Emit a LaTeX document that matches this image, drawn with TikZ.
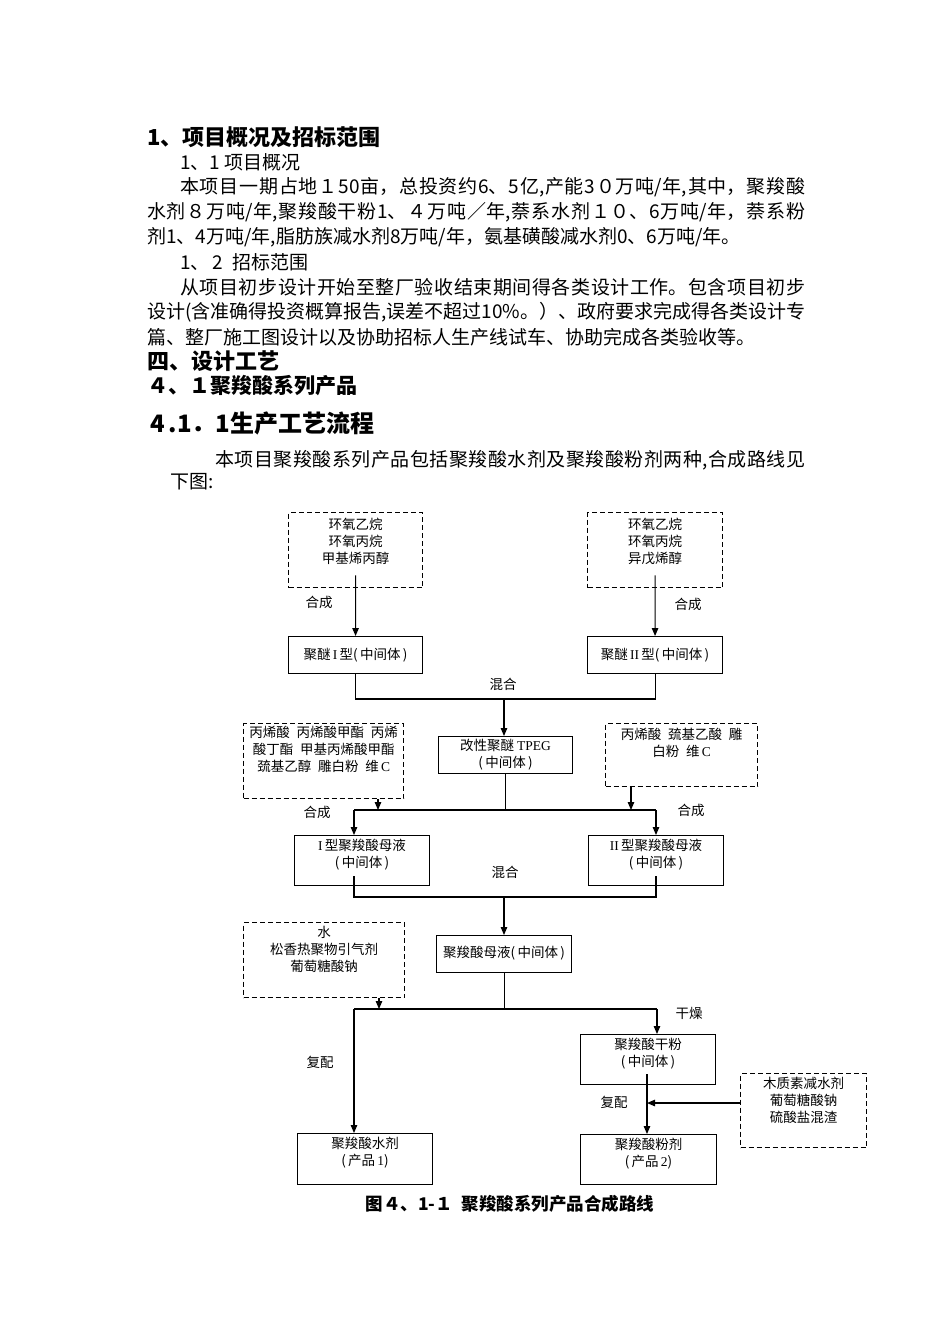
\documentclass[tikz,border=0pt]{standalone}
\usepackage{fontspec}
\usetikzlibrary{arrows.meta}
\setmainfont{Noto Sans CJK SC}
\newfontfamily\enfont{Liberation Serif}
\newcommand\cell[4]{\parbox[c][#2pt][t]{#1pt}{\centering\vspace*{#3pt}#4}}
\newcommand\jline[2]{\parbox{#1pt}{\XeTeXlinebreaklocale "zh"\XeTeXlinebreakskip=0pt plus 3pt minus 1pt\relax
  \parindent=0pt\parfillskip=0pt\leftskip=0pt\rightskip=0pt #2}}

\begin{document}
\begin{tikzpicture}[x=1pt, y=-1pt,
    body/.style={anchor=west, inner sep=0pt, font=\fontsize{19}{25}\selectfont},
    head/.style={anchor=west, inner sep=0pt, font=\fontsize{22}{26}\selectfont\bfseries},
    solidbox/.style={draw, line width=1.1pt, inner sep=0pt, anchor=north west, font=\fontsize{13.5}{17}\selectfont},
    dashbox/.style={solidbox, line width=1.3pt, dash pattern=on 5pt off 3pt},
    lbl/.style={inner sep=0pt, font=\fontsize{13.5}{17}\selectfont},
    wire/.style={line width=1.1pt},
    arr/.style={wire, -{Triangle[length=8pt,width=6.5pt]}}]
  \useasboundingbox (0,0) rectangle (950,1344);

  % page text
  \node[head] (h1) at (147,137) {1、项目概况及招标范围};
  \node[body] (s11) at (180,162) {1、1 项目概况};
  \node[body] (p1a) at (180,187) {\jline{625}{本项目一期占地１50亩，总投资约6、5亿,产能3０万吨/年,其中，聚羧酸}};
  \node[body] (p1b) at (147,212) {\jline{658}{水剂８万吨/年,聚羧酸干粉1、４万吨／年,萘系水剂１０、6万吨/年，萘系粉}};
  \node[body] (p1c) at (147,237) {剂1、4万吨/年,脂肪族减水剂8万吨/年，氨基磺酸减水剂0、6万吨/年。};
  \node[body] (s12) at (180,262) {1、\,2\enspace 招标范围};
  \node[body] (p2a) at (180,287) {\jline{625}{从项目初步设计开始至整厂验收结束期间得各类设计工作。包含项目初步}};
  \node[body] (p2b) at (147,312) {\jline{658}{设计(含准确得投资概算报告,误差不超过10\%。）、政府要求完成得各类设计专}};
  \node[body] (p2c) at (147,337) {篇、整厂施工图设计以及协助招标人生产线试车、协助完成各类验收等。};
  \node[head] (h4) at (147,361) {四、设计工艺};
  \node[head, font=\fontsize{21}{25}\selectfont\bfseries] (h41) at (147,386) {４、１聚羧酸系列产品};
  \node[head, font=\fontsize{24}{28}\selectfont\bfseries] (h411) at (150,423) {4\,.1．1生产工艺流程};
  \node[body] (p3a) at (215,460) {\jline{590}{本项目聚羧酸系列产品包括聚羧酸水剂及聚羧酸粉剂两种,合成路线见}};
  \node[body] (p3b) at (170,482) {下图:};

  % flow chart boxes
  \node[dashbox] (rawA) at (288,512) {\cell{134}{75}{5}{环氧乙烷\\环氧丙烷\\甲基烯丙醇}};
  \node[dashbox] (rawB) at (587,512) {\cell{135}{75}{5}{环氧乙烷\\环氧丙烷\\异戊烯醇}};
  \node[solidbox] (etherA) at (288,636) {\cell{134}{37}{12}{聚醚{\enfont\,I\,}型(\,中间体\,)}};
  \node[solidbox] (etherB) at (587,636) {\cell{135}{37}{12}{聚醚{\enfont\,II\,}型(\,中间体\,)}};
  \node[solidbox] (tpeg) at (438,736) {\cell{134}{37}{3}{改性聚醚 {\enfont TPEG}\\(\,中间体\,)}};
  \node[dashbox] (addA) at (243,723) {\cell{160}{75}{2.5}{丙烯酸\enspace 丙烯酸甲酯\enspace 丙烯\\酸丁酯\enspace 甲基丙烯酸甲酯\\巯基乙醇\enspace 雕白粉\enspace 维{\enfont\,C}}};
  \node[dashbox] (addB) at (605,723) {\cell{152}{63}{4}{丙烯酸\enspace 巯基乙酸\enspace 雕\\白粉\enspace 维{\enfont\,C}}};
  \node[solidbox] (motherA) at (294,835) {\cell{135}{50}{3}{{\enfont I\,}型聚羧酸母液\\(\,中间体\,)}};
  \node[solidbox] (motherB) at (588,835) {\cell{135}{50}{3}{{\enfont II\,}型聚羧酸母液\\(\,中间体\,)}};
  \node[solidbox] (acid) at (436,935) {\cell{135}{37}{10}{聚羧酸母液(\,中间体\,)}};
  \node[dashbox] (addC) at (243,922) {\cell{161}{75}{4}{水\\松香热聚物引气剂\\葡萄糖酸钠}};
  \node[solidbox] (powder) at (580,1034) {\cell{135}{50}{3}{聚羧酸干粉\\(\,中间体\,)}};
  \node[dashbox] (addD) at (740,1073) {\cell{126}{74}{3}{木质素减水剂\\葡萄糖酸钠\\硫酸盐混渣}};
  \node[solidbox] (water) at (297,1133) {\cell{135}{51}{3}{聚羧酸水剂\\(\,产品{\enfont\,1})}};
  \node[solidbox] (product2) at (580,1134) {\cell{136}{50}{3}{聚羧酸粉剂\\(\,产品{\enfont\,2})}};

  % labels
  \node[lbl] (synA) at (319,602) {合成};
  \node[lbl] (synB) at (688,604) {合成};
  \node[lbl] (mixA) at (503,684) {混合};
  \node[lbl] (synC) at (317,812) {合成};
  \node[lbl] (synD) at (691,810) {合成};
  \node[lbl] (mixB) at (505,872) {混合};
  \node[lbl] (dry) at (689,1013) {干燥};
  \node[lbl] (blendA) at (320,1062) {复配};
  \node[lbl] (blendB) at (614,1102) {复配};

  % connectors
  \coordinate (mix1) at (504,699);
  \draw[arr] ([yshift=13pt]rawA.south) -- (etherA.north);
  \draw[arr] ([yshift=13pt]rawB.south) -- (etherB.north);
  \draw[wire] (etherA.south) -- (etherA.south |- mix1) -- (etherB.south |- mix1) -- (etherB.south);
  \draw[arr] (mix1) -- (mix1 |- tpeg.north);

  \coordinate (sL) at (354,810);
  \coordinate (sR) at (656,810);
  \coordinate (inA) at (378,810);
  \coordinate (inB) at (631,810);
  \draw[wire] (tpeg.south) -- (tpeg.south |- sL);
  \draw[wire] (sL) -- (sR);
  \draw[arr] (sL) -- (sL |- motherA.north);
  \draw[arr] (sR) -- (sR |- motherB.north);
  \draw[arr] (addA.south -| inA) -- (inA);
  \draw[arr] (addB.south -| inB) -- (inB);

  \coordinate (mL) at (354,897);
  \coordinate (mR) at (656,897);
  \coordinate (mix2) at (504,897);
  \draw[wire] ([yshift=10pt]motherA.south -| mL) -- (mL) -- (mR) -- ([yshift=10pt]motherB.south -| mR);
  \draw[arr] (mix2) -- (mix2 |- acid.north);

  \coordinate (cL) at (354,1009);
  \coordinate (cR) at (657,1009);
  \coordinate (inC) at (379,1009);
  \draw[wire] (acid.south) -- (acid.south |- cL);
  \draw[wire] (cL) -- (cR);
  \draw[arr] (cL) -- (cL |- water.north);
  \draw[arr] (cR) -- (cR |- powder.north);
  \draw[arr] (addC.south -| inC) -- (inC);

  \coordinate (dL) at (647,1103);
  \draw[arr] ([yshift=11pt]powder.south -| dL) -- (dL |- product2.north);
  \draw[arr] (addD.west |- dL) -- (dL);

  % caption
  \node[inner sep=0pt, font=\fontsize{17.5}{20}\selectfont\bfseries] (cap) at (510,1204) {图４、1-１\enspace 聚羧酸系列产品合成路线};
\end{tikzpicture}
\end{document}
